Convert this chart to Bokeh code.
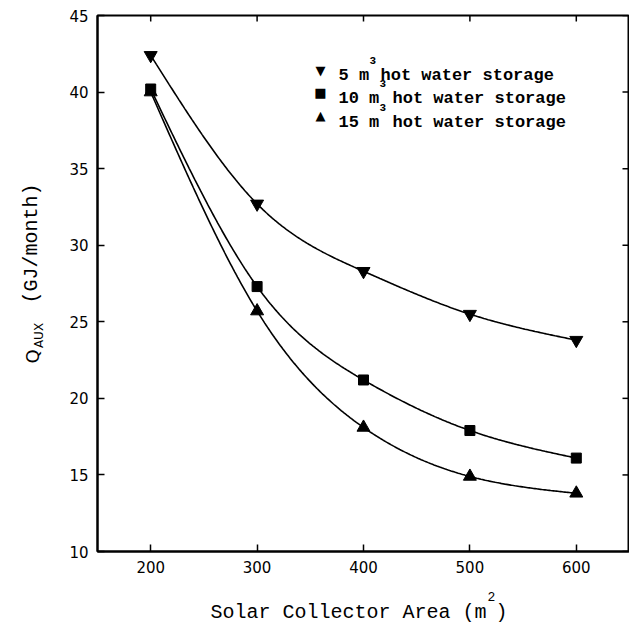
import numpy as np
from bokeh.plotting import figure
from bokeh.layouts import row, column
from bokeh.models import Label, FixedTicker, ColumnDataSource
from bokeh.embed import file_html
from bokeh.resources import INLINE

# Solar collector area (m^2) and monthly auxiliary energy (GJ/month)
area = [200, 300, 400, 500, 600]
q_5m3 = [42.4, 32.7, 28.3, 25.5, 23.8]
q_10m3 = [40.2, 27.3, 21.2, 17.9, 16.1]
q_15m3 = [40.0, 25.7, 18.1, 14.9, 13.8]

x_ticks = [200, 300, 400, 500, 600]
y_ticks = [10, 15, 20, 25, 30, 35, 40, 45]
X_MIN, X_MAX = 150, 650
Y_MIN, Y_MAX = 10, 45


def natural_spline(xs, ys, n=300):
    """Smooth curve through the points (natural cubic spline)."""
    xs = np.asarray(xs, float)
    ys = np.asarray(ys, float)
    k = len(xs)
    h = np.diff(xs)
    A = np.zeros((k, k))
    r = np.zeros(k)
    A[0, 0] = 1.0
    A[-1, -1] = 1.0
    for i in range(1, k - 1):
        A[i, i - 1] = h[i - 1]
        A[i, i] = 2.0 * (h[i - 1] + h[i])
        A[i, i + 1] = h[i]
        r[i] = 6.0 * ((ys[i + 1] - ys[i]) / h[i] - (ys[i] - ys[i - 1]) / h[i - 1])
    M = np.linalg.solve(A, r)
    t = np.linspace(xs[0], xs[-1], n)
    idx = np.clip(np.searchsorted(xs, t) - 1, 0, k - 2)
    hi = h[idx]
    a = xs[idx + 1] - t
    b = t - xs[idx]
    s = (M[idx] * a ** 3 / (6 * hi) + M[idx + 1] * b ** 3 / (6 * hi)
         + (ys[idx] / hi - M[idx] * hi / 6) * a
         + (ys[idx + 1] / hi - M[idx + 1] * hi / 6) * b)
    return t, s


def blank(width, height):
    """An axis-less strip used only to hold title text."""
    f = figure(width=width, height=height, x_range=(0, 1), y_range=(0, 1),
               output_backend="svg", toolbar_location=None,
               min_border=0, min_border_left=0, min_border_right=0,
               min_border_top=0, min_border_bottom=0)
    f.axis.visible = False
    f.grid.visible = False
    f.outline_line_color = None
    return f


def txt(fig, x, y, text, font, size, **kw):
    fig.add_layout(Label(x=x, y=y, x_units="screen", y_units="screen", text=text,
                         text_font=font, text_font_size=size, text_color="black", **kw))


# ---- main plot -------------------------------------------------------------
p = figure(width=585, height=578, x_range=(X_MIN, X_MAX), y_range=(Y_MIN, Y_MAX),
           output_backend="svg", toolbar_location=None,
           min_border_left=53, min_border_right=0,
           min_border_top=15, min_border_bottom=27)
p.grid.visible = False
p.outline_line_color = "black"
p.outline_line_width = 2

for ax in (p.xaxis[0], p.yaxis[0]):
    ax.axis_line_width = 2
    ax.axis_line_color = "black"
    ax.major_tick_in = 7
    ax.major_tick_out = 0
    ax.major_tick_line_width = 1.5
    ax.minor_tick_in = 0
    ax.minor_tick_out = 0
    ax.major_label_text_font = "DejaVu Sans"
    ax.major_label_text_font_size = "15px"
    ax.major_label_text_color = "black"
    ax.major_label_standoff = 9

p.xaxis[0].ticker = FixedTicker(ticks=x_ticks)
p.yaxis[0].ticker = FixedTicker(ticks=y_ticks)

# inward ticks on the top and right edges (half of each dash lies inside the frame)
p.scatter(x=x_ticks, y=[Y_MAX] * len(x_ticks), marker="dash", angle=np.pi / 2,
          size=12, line_color="black", line_width=1.5)
p.scatter(x=[X_MAX] * len(y_ticks), y=y_ticks, marker="dash",
          size=14, line_color="black", line_width=1.5)

series = [
    (q_5m3, "inverted_triangle", 13),
    (q_10m3, "square", 10),
    (q_15m3, "triangle", 13),
]
for vals, marker, size in series:
    cx, cy = natural_spline(area, vals)
    p.line(cx, cy, line_color="black", line_width=1.6)
    src = ColumnDataSource(dict(x=area, y=vals))
    p.scatter("x", "y", source=src, marker=marker, size=size,
              fill_color="black", line_color="black")

# legend, positioned in frame pixels (origin at the frame's lower-left)
leg_font = "Liberation Mono"
rows = [
    ("\u25BC", "5 m", 481, 476, 241, 272, 283),
    ("\u25A0", "10 m", 459, 453, 241, 282, 295),
    ("\u25B2", "15 m", 436, 429, 241, 282, 295),
]
for sym, head, sy_sym, sy_base, sx_head, sx_sup, sx_tail in rows:
    txt(p, 223, sy_sym, sym, "DejaVu Sans", "13px",
        text_align="center", text_baseline="middle")
    txt(p, sx_head, sy_base, head, leg_font, "17px",
        text_font_style="bold", text_baseline="alphabetic")
    txt(p, sx_sup, sy_base + 15, "3", leg_font, "11px",
        text_font_style="bold", text_baseline="alphabetic")
    txt(p, sx_tail, sy_base, "hot water storage", leg_font, "17px",
        text_font_style="bold", text_baseline="alphabetic")

# ---- x-axis title strip (its frame lines up with the main frame) -------------
xlab = blank(585, 45)
title_font = "Liberation Mono"
txt(xlab, 113, 11, "Solar Collector Area (m", title_font, "20px",
    text_baseline="alphabetic")
txt(xlab, 390, 27, "2", title_font, "13px", text_baseline="alphabetic")
txt(xlab, 398, 11, ")", title_font, "20px", text_baseline="alphabetic")

# ---- y-axis title strip -----------------------------------------------------
ylab = blank(44, 623)
txt(ylab, 32, 267, "Q", "DejaVu Sans", "18px", angle=np.pi / 2,
    text_align="center", text_baseline="alphabetic")
txt(ylab, 38, 288, "AUX", "DejaVu Sans", "12px", angle=np.pi / 2,
    text_align="center", text_baseline="alphabetic")
txt(ylab, 31, 380, "(GJ/month)", title_font, "20px", angle=np.pi / 2,
    text_align="center", text_baseline="alphabetic")

layout = row(ylab, column(p, xlab))
open("out.html", "w").write(file_html(layout, INLINE))
